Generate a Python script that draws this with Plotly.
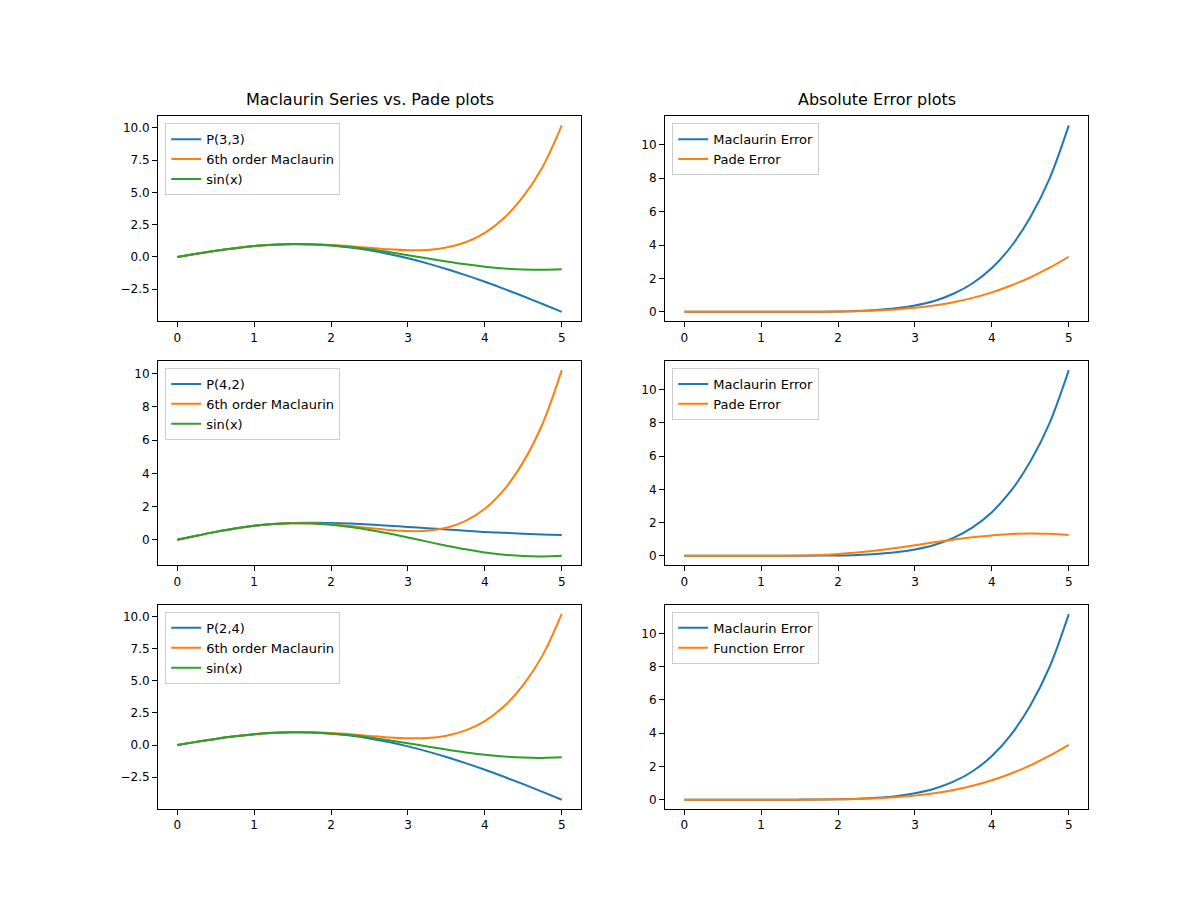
import plotly.graph_objects as go

x = [0, 0.25, 0.5, 0.75, 1, 1.25, 1.5, 1.75, 2, 2.25, 2.5, 2.75, 3, 3.25, 3.5, 3.75, 4, 4.25, 4.5, 4.75, 5]

sin_x = [0, 0.247, 0.479, 0.682, 0.841, 0.949, 0.997, 0.984, 0.909, 0.778, 0.598, 0.382, 0.141,
         -0.108, -0.351, -0.572, -0.757, -0.895, -0.978, -0.999, -0.959]
maclaurin = [0, 0.247, 0.479, 0.682, 0.842, 0.950, 1.001, 0.994, 0.933, 0.832, 0.710, 0.595, 0.525,
             0.546, 0.731, 1.141, 1.867, 3.019, 4.690, 6.983, 10.208]
p33 = [0, 0.247, 0.479, 0.682, 0.841, 0.948, 0.994, 0.975, 0.889, 0.735, 0.516, 0.235, -0.103,
       -0.494, -0.932, -1.411, -1.926, -2.473, -3.047, -3.644, -4.259]
p42 = [0, 0.247, 0.479, 0.682, 0.842, 0.952, 1.01, 1.03, 1.02, 0.98, 0.92, 0.85, 0.77,
       0.70, 0.62, 0.55, 0.47, 0.42, 0.37, 0.32, 0.29]
p24 = p33

mac_err = [0, 0, 0, 0, 0.001, 0.001, 0.004, 0.010, 0.024, 0.054, 0.112, 0.213, 0.384,
           0.654, 1.082, 1.713, 2.624, 3.914, 5.668, 7.982, 11.167]
p33_err = [0, 0, 0, 0, 0, 0.001, 0.003, 0.009, 0.020, 0.043, 0.082, 0.147, 0.244,
           0.386, 0.580, 0.838, 1.169, 1.578, 2.069, 2.645, 3.300]
p42_err = [0, 0, 0, 0, 0.001, 0.003, 0.013, 0.046, 0.111, 0.202, 0.322, 0.468, 0.629,
           0.808, 0.971, 1.122, 1.227, 1.315, 1.348, 1.319, 1.249]
p24_err = p33_err

blue, orange, green = "#1f77b4", "#ff7f0e", "#2ca02c"

xdom = [[0.125, 0.4775], [0.5475, 0.9]]
ydom = [[0.652, 0.88], [0.381, 0.608], [0.11, 0.337]]

panels = [
    # row, col, traces, yrange, ticks
    (0, 0, [("P(3,3)", p33, blue), ("6th order Maclaurin", maclaurin, orange), ("sin(x)", sin_x, green)],
     [-4.98, 10.93], [-2.5, 0, 2.5, 5, 7.5, 10], ["−2.5", "0.0", "2.5", "5.0", "7.5", "10.0"]),
    (0, 1, [("Maclaurin Error", mac_err, blue), ("Pade Error", p33_err, orange)],
     [-0.56, 11.73], [0, 2, 4, 6, 8, 10], None),
    (1, 0, [("P(4,2)", p42, blue), ("6th order Maclaurin", maclaurin, orange), ("sin(x)", sin_x, green)],
     [-1.52, 10.77], [0, 2, 4, 6, 8, 10], None),
    (1, 1, [("Maclaurin Error", mac_err, blue), ("Pade Error", p42_err, orange)],
     [-0.56, 11.73], [0, 2, 4, 6, 8, 10], None),
    (2, 0, [("P(2,4)", p24, blue), ("6th order Maclaurin", maclaurin, orange), ("sin(x)", sin_x, green)],
     [-4.98, 10.93], [-2.5, 0, 2.5, 5, 7.5, 10], ["−2.5", "0.0", "2.5", "5.0", "7.5", "10.0"]),
    (2, 1, [("Maclaurin Error", mac_err, blue), ("Function Error", p24_err, orange)],
     [-0.56, 11.73], [0, 2, 4, 6, 8, 10], None),
]

fig = go.Figure()
layout = {}
for i, (r, c, traces, yr, yt, ytt) in enumerate(panels):
    n = i + 1
    sfx = "" if n == 1 else str(n)
    lg = "legend" if n == 1 else "legend" + str(n)
    for name, ys, col in traces:
        fig.add_trace(go.Scatter(x=x, y=ys, name=name, mode="lines", line=dict(color=col, width=2, shape="spline"),
                                 xaxis="x" + sfx, yaxis="y" + sfx, legend=lg))
    ax = dict(showgrid=False, zeroline=False, showline=True, linecolor="black", linewidth=1, mirror=True,
              ticks="outside", ticklen=5, tickcolor="black")
    layout["xaxis" + sfx] = dict(ax, domain=xdom[c], range=[-0.25, 5.25], tickvals=[0, 1, 2, 3, 4, 5],
                                 anchor="y" + sfx)
    ya = dict(ax, domain=ydom[r], range=yr, tickvals=yt, anchor="x" + sfx)
    if ytt:
        ya["ticktext"] = ytt
    layout["yaxis" + sfx] = ya
    layout[lg] = dict(x=xdom[c][0] + 0.006, y=ydom[r][1] - 0.008, xanchor="left", yanchor="top",
                      bgcolor="rgba(255,255,255,0.8)", bordercolor="#cccccc", borderwidth=1,
                      font=dict(size=13), tracegroupgap=0)

fig.update_layout(**layout)
fig.update_layout(
    width=1200, height=900, plot_bgcolor="white", paper_bgcolor="white",
    font=dict(family="DejaVu Sans", size=12, color="black"),
    margin=dict(l=0, r=0, t=0, b=0),
    annotations=[
        dict(text="Maclaurin Series vs. Pade plots", x=sum(xdom[0]) / 2, y=0.885, xref="paper", yref="paper",
             xanchor="center", yanchor="bottom", showarrow=False, font=dict(size=16)),
        dict(text="Absolute Error plots", x=sum(xdom[1]) / 2, y=0.885, xref="paper", yref="paper",
             xanchor="center", yanchor="bottom", showarrow=False, font=dict(size=16)),
    ],
)

fig.write_html("out.html")
